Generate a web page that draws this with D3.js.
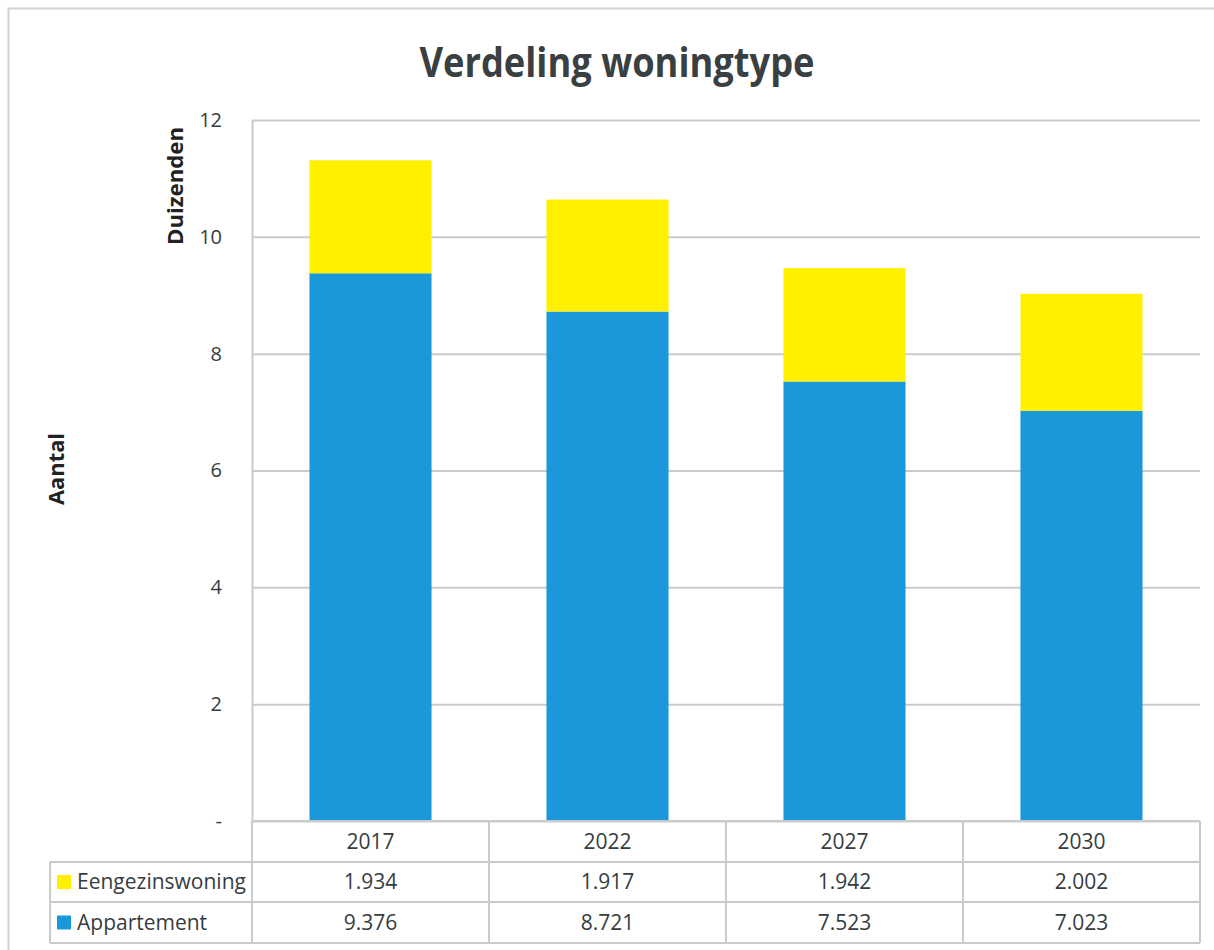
<!DOCTYPE html>
<html>
<head>
<meta charset="utf-8">
<script src="https://cdn.jsdelivr.net/npm/d3@7"></script>
<style>
  html, body { margin: 0; padding: 0; background: #fff; }
  svg { display: block; }
  text { font-family: "Liberation Sans Narrow", "Open Sans", sans-serif; }
</style>
</head>
<body>
<svg id="chart" width="1214" height="950"></svg>
<script>
const years = ["2017", "2022", "2027", "2030"];
const seriesNames = ["Appartement", "Eengezinswoning"];
const appartement = [9.376, 8.721, 7.523, 7.023];
const eengezinswoning = [1.934, 1.917, 1.942, 2.002];
const tableLabels = {
  Eengezinswoning: ["1.934", "1.917", "1.942", "2.002"],
  Appartement: ["9.376", "8.721", "7.523", "7.023"]
};
const yTicks = [0, 2, 4, 6, 8, 10, 12];
const colors = { Appartement: "#1a98da", Eengezinswoning: "#fff000" };

const svg = d3.select("#chart");
const plot = { left: 252, right: 1200, top: 120, bottom: 821 };
const textColor = "#353d41";
const gridColor = "#c8cbcd";

// outer border
svg.append("rect").attr("x", 8.5).attr("y", 8.5).attr("width", 1220).attr("height", 960)
  .attr("fill", "none").attr("stroke", "#cfd3d6").attr("stroke-width", 2);

// title
svg.append("text").attr("x", 617).attr("y", 77).attr("text-anchor", "middle")
  .attr("font-size", 42).attr("font-weight", "bold").attr("fill", "#3a3f42")
  .attr("textLength", 395).attr("lengthAdjust", "spacingAndGlyphs")
  .text("Verdeling woningtype");

const x = d3.scaleBand().domain(years).range([plot.left, plot.right]).paddingInner(0.485).paddingOuter(0.2425);
const y = d3.scaleLinear().domain([0, 12]).range([plot.bottom, plot.top]);

// gridlines
svg.append("g").selectAll("line").data(yTicks.filter(d => d > 0)).join("line")
  .attr("x1", plot.left).attr("x2", plot.right)
  .attr("y1", d => y(d) + 0.5).attr("y2", d => y(d) + 0.5)
  .attr("stroke", gridColor).attr("stroke-width", 2);

// y axis
const yAxis = d3.axisLeft(y).tickValues(yTicks).tickSize(0).tickPadding(30)
  .tickFormat(d => d === 0 ? "-" : d);
const ga = svg.append("g").attr("transform", `translate(${plot.left},0)`).call(yAxis);
ga.select(".domain").attr("stroke", gridColor).attr("stroke-width", 2);
ga.selectAll("text").attr("font-size", 20).attr("fill", textColor)
  .style("font-family", "'Liberation Sans Narrow', 'Open Sans', sans-serif");

// stacked bars
const rows = years.map((yr, i) => ({ year: yr, Appartement: appartement[i], Eengezinswoning: eengezinswoning[i] }));
const stack = d3.stack().keys(seriesNames)(rows);
svg.append("g").selectAll("g").data(stack).join("g")
  .attr("fill", d => colors[d.key])
  .selectAll("rect").data(d => d).join("rect")
  .attr("x", d => x(d.data.year))
  .attr("width", x.bandwidth())
  .attr("y", d => y(d[1]))
  .attr("height", d => y(d[0]) - y(d[1]));

// baseline
svg.append("line").attr("x1", plot.left).attr("x2", plot.right)
  .attr("y1", plot.bottom + 0.5).attr("y2", plot.bottom + 0.5)
  .attr("stroke", gridColor).attr("stroke-width", 2);

// axis titles
svg.append("text").attr("transform", "translate(183,186) rotate(-90)")
  .attr("text-anchor", "middle").attr("font-size", 21).attr("font-weight", "bold")
  .attr("fill", "#222").attr("textLength", 118).attr("lengthAdjust", "spacingAndGlyphs")
  .text("Duizenden");
svg.append("text").attr("transform", "translate(64,469) rotate(-90)")
  .attr("text-anchor", "middle").attr("font-size", 21).attr("font-weight", "bold")
  .attr("fill", "#222").attr("textLength", 72).attr("lengthAdjust", "spacingAndGlyphs")
  .text("Aantal");

// data table
const rowY = [821, 862, 902, 943];
const colEdges = [plot.left, ...years.map((yr, i) => plot.left + (plot.right - plot.left) * (i + 1) / years.length)];
const tbl = svg.append("g");
const lineStyle = s => s.attr("stroke", gridColor).attr("stroke-width", 2).attr("fill", "none");
tbl.append("line").call(lineStyle).attr("x1", plot.left).attr("x2", plot.right).attr("y1", rowY[0]).attr("y2", rowY[0]);
[1, 2, 3].forEach(i => {
  tbl.append("line").call(lineStyle).attr("x1", 50).attr("x2", plot.right).attr("y1", rowY[i]).attr("y2", rowY[i]);
});
colEdges.forEach(cx => {
  tbl.append("line").call(lineStyle).attr("x1", cx).attr("x2", cx).attr("y1", rowY[0]).attr("y2", rowY[3]);
});
tbl.append("line").call(lineStyle).attr("x1", 50).attr("x2", 50).attr("y1", rowY[1]).attr("y2", rowY[3]);

tbl.selectAll("text.year").data(years).join("text").attr("class", "year")
  .attr("x", d => x(d) + x.bandwidth() / 2).attr("y", (rowY[0] + rowY[1]) / 2 + 7)
  .attr("text-anchor", "middle").attr("font-size", 21).attr("fill", textColor).text(d => d);

const tableSeries = ["Eengezinswoning", "Appartement"];
tableSeries.forEach((name, r) => {
  const cy = (rowY[r + 1] + rowY[r + 2]) / 2;
  tbl.append("rect").attr("x", 57).attr("y", cy - 7).attr("width", 14).attr("height", 14).attr("fill", colors[name]);
  tbl.append("text").attr("x", 77).attr("y", cy + 7).attr("font-size", 21).attr("fill", textColor).text(name);
  tbl.selectAll(null).data(tableLabels[name]).join("text")
    .attr("x", (d, i) => x(years[i]) + x.bandwidth() / 2).attr("y", cy + 7)
    .attr("text-anchor", "middle").attr("font-size", 21).attr("fill", textColor).text(d => d);
});
</script>
</body>
</html>
